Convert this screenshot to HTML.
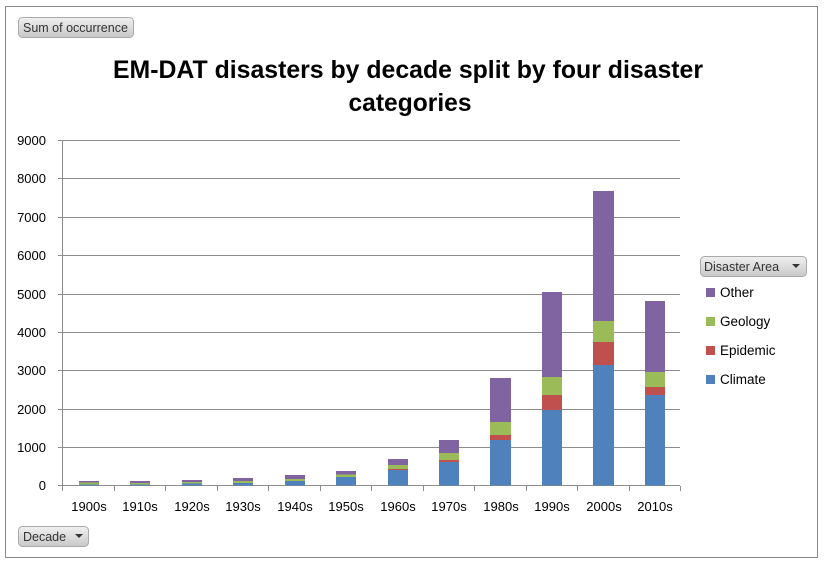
<!DOCTYPE html>
<html><head><meta charset="utf-8"><style>
body{margin:0;background:#fff;}
svg{display:block;font-family:"Liberation Sans",Calibri,sans-serif;}
</style></head><body>
<svg width="826" height="565" viewBox="0 0 826 565" xmlns="http://www.w3.org/2000/svg">
<rect x="0" y="0" width="826" height="565" fill="#fff"/>
<rect x="5.5" y="6.5" width="812" height="551" fill="#fff" stroke="#888" stroke-width="1"/>
<defs><linearGradient id="bg" x1="0" y1="0" x2="0" y2="1"><stop offset="0" stop-color="#f0f0f0"/><stop offset="1" stop-color="#c8c8c8"/></linearGradient></defs>
<rect x="18.5" y="17.5" width="115" height="20" rx="4" fill="url(#bg)" stroke="#aaa"/>
<text x="23" y="32" font-size="12.5" fill="#333">Sum of occurrence</text>
<text x="408" y="78" font-size="25" font-weight="bold" text-anchor="middle" textLength="590" lengthAdjust="spacingAndGlyphs">EM-DAT disasters by decade split by four disaster</text>
<text x="410" y="111" font-size="25" font-weight="bold" text-anchor="middle" textLength="123" lengthAdjust="spacingAndGlyphs">categories</text>
<g stroke="#8c8c8c" stroke-width="1">
<line x1="58" y1="140.5" x2="680" y2="140.5"/>
<line x1="58" y1="178.5" x2="680" y2="178.5"/>
<line x1="58" y1="217.5" x2="680" y2="217.5"/>
<line x1="58" y1="255.5" x2="680" y2="255.5"/>
<line x1="58" y1="294.5" x2="680" y2="294.5"/>
<line x1="58" y1="332.5" x2="680" y2="332.5"/>
<line x1="58" y1="370.5" x2="680" y2="370.5"/>
<line x1="58" y1="409.5" x2="680" y2="409.5"/>
<line x1="58" y1="447.5" x2="680" y2="447.5"/>
<line x1="58" y1="485.5" x2="680" y2="485.5"/>
<line x1="62.5" y1="140" x2="62.5" y2="486"/>
</g>
<g stroke="#8c8c8c" stroke-width="1">
<line x1="62.5" y1="486" x2="62.5" y2="491"/><line x1="114.5" y1="486" x2="114.5" y2="491"/><line x1="165.5" y1="486" x2="165.5" y2="491"/><line x1="217.5" y1="486" x2="217.5" y2="491"/><line x1="268.5" y1="486" x2="268.5" y2="491"/><line x1="320.5" y1="486" x2="320.5" y2="491"/><line x1="371.5" y1="486" x2="371.5" y2="491"/><line x1="423.5" y1="486" x2="423.5" y2="491"/><line x1="474.5" y1="486" x2="474.5" y2="491"/><line x1="526.5" y1="486" x2="526.5" y2="491"/><line x1="577.5" y1="486" x2="577.5" y2="491"/><line x1="629.5" y1="486" x2="629.5" y2="491"/><line x1="680.5" y1="486" x2="680.5" y2="491"/>
</g>
<g font-size="13" fill="#000" text-anchor="end">
<text x="46" y="145">9000</text><text x="46" y="183">8000</text><text x="46" y="222">7000</text><text x="46" y="260">6000</text><text x="46" y="299">5000</text><text x="46" y="337">4000</text><text x="46" y="375">3000</text><text x="46" y="414">2000</text><text x="46" y="452">1000</text><text x="46" y="490">0</text>
</g>
<g font-size="13" fill="#000" text-anchor="middle">
<text x="89" y="511">1900s</text><text x="140" y="511">1910s</text><text x="192" y="511">1920s</text><text x="243" y="511">1930s</text><text x="295" y="511">1940s</text><text x="346" y="511">1950s</text><text x="398" y="511">1960s</text><text x="449" y="511">1970s</text><text x="501" y="511">1980s</text><text x="552" y="511">1990s</text><text x="604" y="511">2000s</text><text x="655" y="511">2010s</text>
</g>
<g>
<!-- bars: purple top, green, red, blue -->
<rect x="79" y="481" width="20" height="1.5" fill="#8064A2"/><rect x="79" y="482.5" width="20" height="2" fill="#9BBB59"/><rect x="79" y="484.5" width="20" height="1" fill="#4F81BD"/>
<rect x="130" y="481" width="20" height="2" fill="#8064A2"/><rect x="130" y="483" width="20" height="1.5" fill="#9BBB59"/><rect x="130" y="484.5" width="20" height="1" fill="#4F81BD"/>
<rect x="182" y="480" width="20" height="2" fill="#8064A2"/><rect x="182" y="482" width="20" height="1.5" fill="#9BBB59"/><rect x="182" y="483.5" width="20" height="2" fill="#4F81BD"/>
<rect x="233" y="478" width="20" height="3" fill="#8064A2"/><rect x="233" y="481" width="20" height="2" fill="#9BBB59"/><rect x="233" y="483" width="20" height="2.5" fill="#4F81BD"/>
<rect x="285" y="475" width="20" height="4" fill="#8064A2"/><rect x="285" y="479" width="20" height="2" fill="#9BBB59"/><rect x="285" y="481" width="20" height="4.5" fill="#4F81BD"/>
<rect x="336" y="471" width="20" height="3.5" fill="#8064A2"/><rect x="336" y="474.5" width="20" height="2.5" fill="#9BBB59"/><rect x="336" y="477" width="20" height="8.5" fill="#4F81BD"/>
<rect x="388" y="459" width="20" height="6" fill="#8064A2"/><rect x="388" y="465" width="20" height="4" fill="#9BBB59"/><rect x="388" y="469" width="20" height="1" fill="#C0504D"/><rect x="388" y="470" width="20" height="15.5" fill="#4F81BD"/>
<rect x="439" y="440" width="20" height="13" fill="#8064A2"/><rect x="439" y="453" width="20" height="7" fill="#9BBB59"/><rect x="439" y="460" width="20" height="2" fill="#C0504D"/><rect x="439" y="462" width="20" height="23.5" fill="#4F81BD"/>
<rect x="490" y="378" width="21" height="44" fill="#8064A2"/><rect x="490" y="422" width="21" height="13" fill="#9BBB59"/><rect x="490" y="435" width="21" height="5" fill="#C0504D"/><rect x="490" y="440" width="21" height="45.5" fill="#4F81BD"/>
<rect x="542" y="292" width="20" height="85" fill="#8064A2"/><rect x="542" y="377" width="20" height="18" fill="#9BBB59"/><rect x="542" y="395" width="20" height="15" fill="#C0504D"/><rect x="542" y="410" width="20" height="75.5" fill="#4F81BD"/>
<rect x="593" y="191" width="21" height="130" fill="#8064A2"/><rect x="593" y="321" width="21" height="21" fill="#9BBB59"/><rect x="593" y="342" width="21" height="23" fill="#C0504D"/><rect x="593" y="365" width="21" height="120.5" fill="#4F81BD"/>
<rect x="645" y="301" width="20" height="71" fill="#8064A2"/><rect x="645" y="372" width="20" height="15" fill="#9BBB59"/><rect x="645" y="387" width="20" height="8" fill="#C0504D"/><rect x="645" y="395" width="20" height="90.5" fill="#4F81BD"/>
</g>
<rect x="700.5" y="256.5" width="106" height="20" rx="4" fill="url(#bg)" stroke="#aaa"/>
<text x="704" y="271" font-size="12.5" fill="#333">Disaster Area</text>
<polygon points="792,264 800,264 796,268" fill="#333"/>
<g font-size="13.5" fill="#000">
<rect x="706" y="288" width="9" height="9" fill="#8064A2"/><text x="720" y="297">Other</text>
<rect x="706" y="317" width="9" height="9" fill="#9BBB59"/><text x="720" y="326">Geology</text>
<rect x="706" y="346" width="9" height="9" fill="#C0504D"/><text x="720" y="355">Epidemic</text>
<rect x="706" y="375" width="9" height="9" fill="#4F81BD"/><text x="720" y="384">Climate</text>
</g>
<rect x="18.5" y="526.5" width="70" height="20" rx="4" fill="url(#bg)" stroke="#aaa"/>
<text x="23" y="541" font-size="12.5" fill="#333">Decade</text>
<polygon points="75,534 83,534 79,538" fill="#333"/>
</svg>
</body></html>
